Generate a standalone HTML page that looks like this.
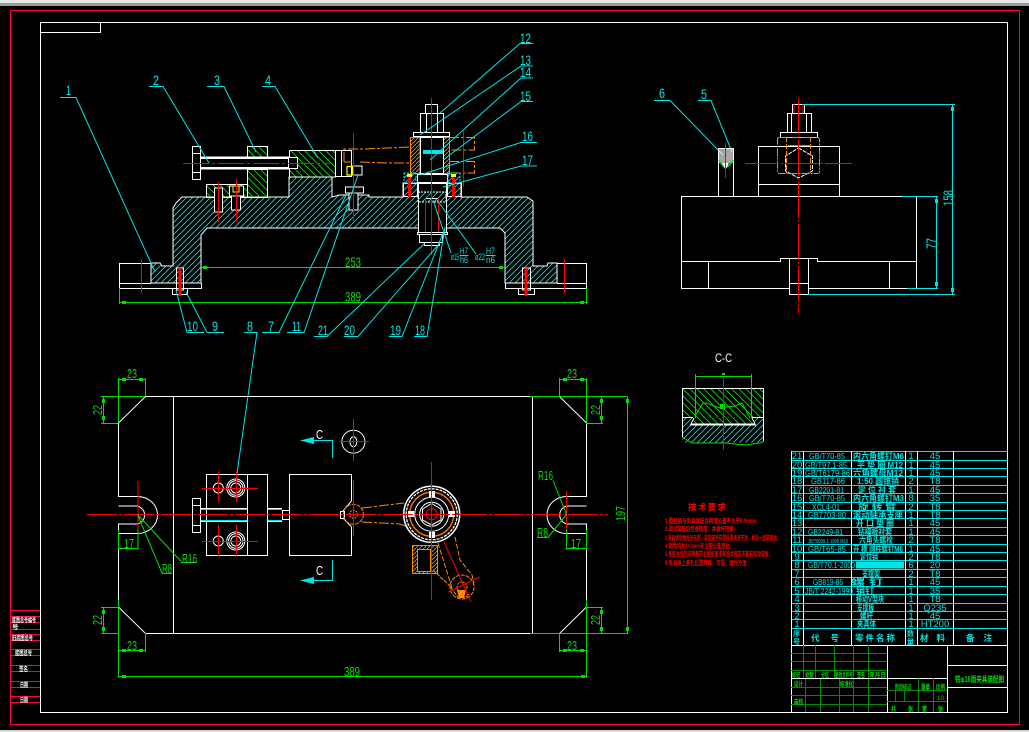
<!DOCTYPE html>
<html><head><meta charset="utf-8"><title>钻φ16孔夹具装配图</title>
<style>
html,body{margin:0;padding:0;background:#000;width:1029px;height:732px;overflow:hidden}
svg{display:block}
text{font-family:"Liberation Sans","Noto Sans CJK SC",sans-serif}
</style></head><body>
<svg width="1029" height="732" viewBox="0 0 1029 732" xmlns="http://www.w3.org/2000/svg">
<defs>
<pattern id="hc" width="6" height="6" patternUnits="userSpaceOnUse"><path d="M-1,7 L7,-1 M-1,1 L1,-1 M5,7 L7,5" stroke="#00e5e5" stroke-width=".8"/></pattern>
<pattern id="hg" width="7" height="7" patternUnits="userSpaceOnUse"><path d="M-1,-1 L8,8 M6,-1 L8,1 M-1,6 L1,8" stroke="#00e000" stroke-width=".9"/></pattern>
<pattern id="ho" width="4" height="4" patternUnits="userSpaceOnUse"><path d="M-1,5 L5,-1" stroke="#ff8c00" stroke-width=".8"/></pattern>
</defs>
<rect width="1029" height="732" fill="#000"/>
<rect x="0" y="0" width="1029" height="3" fill="#e8e8e8"/>
<rect x="0" y="3" width="1029" height="3" fill="#9a9a9a"/>
<rect x="0" y="730" width="1029" height="2" fill="#d8d8d8"/>
<rect x="10.5" y="10.5" width="1009" height="714" fill="none" stroke="#ff0040" stroke-width="1"/>
<g fill="none" stroke="#fff" stroke-width="1" shape-rendering="crispEdges">
<rect x="40.5" y="22.5" width="967" height="690"/>
<rect x="40.5" y="22.5" width="60" height="10"/>
</g>
<g stroke="#ff0040" stroke-width="1" shape-rendering="crispEdges">
<path d="M11,610.5H40M11,616.5H40M11,622.5H40M11,629.5H40M11,634.5H40M11,640.5H40M11,649.5H40M11,655.5H40M11,665.5H40M11,671.5H40M11,681.5H40M11,687.5H40M11,696.5H40M11,702.5H40"/>
</g>
<g fill="#fff" font-size="6.5" font-weight="700">
<text x="12" y="622" textLength="24" lengthAdjust="spacingAndGlyphs">底图总号编号</text>
<text x="12" y="629">号</text>
<text x="12" y="640" textLength="21" lengthAdjust="spacingAndGlyphs">旧底图总号</text>
<text x="15" y="655" textLength="17" lengthAdjust="spacingAndGlyphs">底图总号</text>
<text x="19" y="671" textLength="9" lengthAdjust="spacingAndGlyphs">签名</text>
<text x="20" y="687" textLength="8" lengthAdjust="spacingAndGlyphs">日期</text>
<text x="20" y="702" textLength="8" lengthAdjust="spacingAndGlyphs">日期</text>
</g>

<!-- FRONT VIEW -->
<path d="M173,208L176,203L182,197H289V177H332V197L339,195H369L369,197H403V183H461V197H527L533,201V266H547L548,263H557V283H505V233L500,228H207L201,235V283H151V263H160L162,266H173Z" fill="url(#hc)" stroke="#fff" stroke-width="1"/>
<rect x="418" y="183" width="28" height="50" fill="#000"/>
<g fill="none" stroke="#fff" stroke-width="1" shape-rendering="crispEdges">
<path d="M151,263.5H119.5V288.5H201.5V283M151,283.5H141"/>
<path d="M557,263.5H586.5V288.5H505.5V283M557,283.5H564"/>
<path d="M119.5,283.5H151M557,283.5H586"/>
</g>
<!-- base screws -->
<g fill="none" stroke="#fff" stroke-width="1" shape-rendering="crispEdges">
<path d="M172.5,288V294.5H187.5V288M176.5,268H183.5V290H176.5Z"/>
<path d="M518.5,288V294.5H534.5V288M522.5,268H530.5V290H522.5Z"/>
</g>
<g stroke="#ff0000" shape-rendering="crispEdges">
<path d="M141.5,259V293M564.5,259V293" stroke-width="1.4"/>
<path d="M180,268V296M526,268V296" stroke-width="3"/>
</g>
<!-- block 3 + 4 green hatch -->
<g fill="url(#hg)" stroke="#fff" stroke-width="1" shape-rendering="crispEdges">
<rect x="247.5" y="146.5" width="20" height="11"/>
<rect x="247.5" y="169.5" width="20" height="28"/>
<rect x="206.5" y="184.5" width="41" height="13"/>
<rect x="289.5" y="150.5" width="46" height="26.5"/>
</g>
<g fill="none" stroke="#fff" shape-rendering="crispEdges">
<rect x="335.5" y="150.5" width="16" height="26"/>
<path d="M341.5,150.5V176.5"/>
<rect x="192.5" y="146.5" width="8" height="33" fill="#000"/>
<path d="M192.5,153.5H200.5M192.5,172.5H200.5"/>
<rect x="288.5" y="157.5" width="9" height="11" fill="#000"/>
</g>
<g fill="#000" stroke="#fff" stroke-width="1" shape-rendering="crispEdges">
<rect x="200.5" y="157" width="88" height="12" />
<rect x="214.5" y="188" width="8" height="24"/>
<rect x="231.5" y="196" width="9" height="14"/>
<rect x="229.5" y="186" width="14" height="10"/>
<rect x="345.5" y="187" width="18" height="6"/>
<rect x="349" y="193" width="9" height="17"/>
<rect x="352.5" y="166" width="9.5" height="9"/>
</g>
<path d="M201,157.5H288M201,158.5H288M201,168.5H288M201,167.5H288" stroke="#fff" shape-rendering="crispEdges"/>
<rect x="233" y="186" width="6" height="6" fill="none" stroke="#ffff00"/>
<rect x="347" y="166.5" width="5.5" height="8.5" fill="none" stroke="#ffff00" stroke-width="1.2"/>
<g stroke="#ff0000" stroke-width="1" shape-rendering="crispEdges">
<path d="M183,163.5H330" stroke-dasharray="26 3 3 3"/>
<path d="M218.5,182V222M236.5,179V221M353.5,133V221"/>
</g>
<!-- orange handle -->
<g fill="none" stroke="#ff8c00" stroke-width="1" stroke-dasharray="10 2 3 2">
<path d="M344,162V149H365L410,147M344,162H352M360,162L388,163H410"/>
</g>
<rect x="410.5" y="137.5" width="9.5" height="36" fill="url(#ho)" stroke="#ff8c00"/>
<rect x="443.5" y="137.5" width="6" height="36" fill="url(#ho)" stroke="#ff8c00"/>
<g fill="none" stroke="#ff8c00" stroke-dasharray="10 2 3 2">
<path d="M449,137.5H474.5V150H449M449,161.5H474.5V173H449"/>
</g>
<!-- central post -->
<g fill="#000" stroke="#fff" stroke-width="1" shape-rendering="crispEdges">
<rect x="425.5" y="104.5" width="12" height="9"/>
<rect x="420.5" y="113.5" width="23" height="19"/>
<path d="M426.5,113.5V132M437.5,113.5V132" fill="none"/>
<rect x="413.5" y="132.5" width="36" height="4"/>
<rect x="420.5" y="137.5" width="23" height="36" />
<rect x="417.5" y="174.5" width="30" height="8"/>
<rect x="403.5" y="183.5" width="14" height="13" fill="none"/>
<rect x="447.5" y="183.5" width="14" height="13" fill="none"/>
<rect x="418.5" y="183.5" width="28" height="49"/>
<rect x="425.5" y="198.5" width="13" height="34"/>
<rect x="417.5" y="232.5" width="30" height="2"/>
<rect x="419.5" y="234.5" width="23" height="8"/>
<rect x="424.5" y="242.5" width="15" height="3"/>
</g>
<rect x="423" y="150" width="20" height="4" fill="#00e5e5"/>
<rect x="418" y="192" width="28" height="10" fill="url(#hc)" stroke="#fff" stroke-dasharray="2 1"/>
<rect x="404" y="173" width="12" height="10" fill="url(#hc)" stroke="#00e5e5" stroke-dasharray="2 1"/>
<rect x="448" y="173" width="12" height="10" fill="url(#hc)" stroke="#00e5e5" stroke-dasharray="2 1"/>
<rect x="407" y="174" width="5" height="3" fill="#ffff00"/>
<rect x="451" y="174" width="5" height="3" fill="#ffff00"/>
<g stroke="#ff0000" shape-rendering="crispEdges">
<path d="M431.5,98V255" stroke-width="1"/>
<path d="M463.5,131V187" stroke-width="1"/>
<path d="M409.5,178V197M453.5,178V197" stroke-width="3"/>
<path d="M425.5,198V232M438.5,198V232" stroke-width="1.4"/>
</g>
<!-- green dims front -->
<g stroke="#00e000" fill="none" stroke-width="1" shape-rendering="crispEdges">
<path d="M201,267.5H505M119.5,302.5H586.5M119.5,288V304M586.5,288V304"/>
</g>
<g fill="#00e000"><rect x="203" y="266" width="4" height="3"/><rect x="499" y="266" width="4" height="3"/><rect x="122" y="301" width="4" height="3"/><rect x="580" y="301" width="4" height="3"/></g>
<g fill="#00e000" font-size="13.5"><text x="345" y="267" textLength="16" lengthAdjust="spacingAndGlyphs">253</text><text x="345" y="301.5" textLength="16" lengthAdjust="spacingAndGlyphs">389</text></g>
<!-- leaders -->
<g stroke="#00e5e5" fill="none" stroke-width="1">
<path d="M60,97.5H76L155,272"/>
<path d="M149,86.5H163L209,163"/>
<path d="M207,86.5H224L256,152"/>
<path d="M262,86.5H275L318,158"/>
<path d="M533,43.5H520L440,113"/>
<path d="M533,66H521L420,135"/>
<path d="M533,78H521L430,160"/>
<path d="M533,101.5H521L443,160"/>
<path d="M537,142.5H521L420,175"/>
<path d="M537,166H521L443,187"/>
<path d="M187,332.5H204M187,332.5L176,290"/>
<path d="M207,332.5H224M207,332.5L186,292"/>
<path d="M244,332.5H257L236.5,477"/>
<path d="M262,332.5H279L347,193"/>
<path d="M287,332.5H304L358,175"/>
<path d="M314,336.5H327L425,243"/>
<path d="M344,336.5H358L440,243"/>
<path d="M389,336.5H402L443,233"/>
<path d="M414,336.5H427L445,227"/>
<path d="M451,253L433,200M476,254L437,200"/>
<path d="M654,100.5H670L723,155"/>
<path d="M698,100.5H711L732,152"/>
</g>
<g fill="#00e5e5" font-size="13.5">
<text x="66" y="95" textLength="5" lengthAdjust="spacingAndGlyphs">1</text>
<text x="153" y="85" textLength="6" lengthAdjust="spacingAndGlyphs">2</text>
<text x="214" y="85" textLength="6" lengthAdjust="spacingAndGlyphs">3</text>
<text x="265" y="85" textLength="6" lengthAdjust="spacingAndGlyphs">4</text>
<text x="520" y="43" textLength="11" lengthAdjust="spacingAndGlyphs">12</text>
<text x="520" y="65" textLength="11" lengthAdjust="spacingAndGlyphs">13</text>
<text x="520" y="77" textLength="11" lengthAdjust="spacingAndGlyphs">14</text>
<text x="520" y="101" textLength="11" lengthAdjust="spacingAndGlyphs">15</text>
<text x="522" y="141" textLength="11" lengthAdjust="spacingAndGlyphs">16</text>
<text x="522" y="165" textLength="11" lengthAdjust="spacingAndGlyphs">17</text>
<text x="187" y="331" textLength="11" lengthAdjust="spacingAndGlyphs">10</text>
<text x="212" y="331" textLength="6" lengthAdjust="spacingAndGlyphs">9</text>
<text x="247" y="331" textLength="6" lengthAdjust="spacingAndGlyphs">8</text>
<text x="268" y="331" textLength="6" lengthAdjust="spacingAndGlyphs">7</text>
<text x="292" y="331" textLength="9" lengthAdjust="spacingAndGlyphs">11</text>
<text x="318" y="335" textLength="10" lengthAdjust="spacingAndGlyphs">21</text>
<text x="344" y="335" textLength="11" lengthAdjust="spacingAndGlyphs">20</text>
<text x="390" y="335" textLength="11" lengthAdjust="spacingAndGlyphs">19</text>
<text x="415" y="335" textLength="10" lengthAdjust="spacingAndGlyphs">18</text>
<text x="659" y="98" textLength="6" lengthAdjust="spacingAndGlyphs">6</text>
<text x="701" y="99" textLength="6" lengthAdjust="spacingAndGlyphs">5</text>
</g>
<g fill="#00e5e5" font-size="9.5">
<text x="451" y="260" textLength="8" lengthAdjust="spacingAndGlyphs">ø15</text>
<text x="460" y="254" textLength="8" lengthAdjust="spacingAndGlyphs">H7</text>
<text x="460" y="263" textLength="8" lengthAdjust="spacingAndGlyphs">h6</text>
<text x="475" y="260" textLength="10" lengthAdjust="spacingAndGlyphs">ø22</text>
<text x="486" y="254" textLength="9" lengthAdjust="spacingAndGlyphs">H7</text>
<text x="486" y="263" textLength="9" lengthAdjust="spacingAndGlyphs">n6</text>
</g>
<path d="M459.5,255.5H468.5M485.5,255.5H495.5" stroke="#00e5e5"/>

<!-- SIDE VIEW -->
<g fill="none" stroke="#fff" stroke-width="1" shape-rendering="crispEdges">
<rect x="681.5" y="196.5" width="235" height="92"/>
<path d="M681.5,261.5H780.5V258.5H817.5V261.5H916.5"/>
<path d="M708.5,261.5V288M889.5,261.5V288"/>
<rect x="789.5" y="258.5" width="19" height="36" fill="#000"/>
<path d="M789.5,283.5H808.5"/>
<path d="M718.5,148V196M733.5,148V196M718.5,148.5H733.5"/>
<rect x="758.5" y="146.5" width="81" height="50"/>
<path d="M758.5,184.5H839.5"/>
<rect x="792.5" y="104.5" width="12" height="9"/>
<rect x="787.5" y="113.5" width="24" height="19"/>
<path d="M791.5,113.5V132M806.5,113.5V132"/>
<rect x="780.5" y="132.5" width="37" height="5" stroke-width="1.4"/>
<path d="M788,146H810"/>
</g>
<path d="M798.5,148L812.5,156V171L798.5,178L785.5,171V156Z" fill="none" stroke="#fff" stroke-dasharray="4 1"/>
<rect x="777.5" y="137.5" width="42" height="36" rx="2" fill="none" stroke="#ff8c00" stroke-dasharray="8 1 2 1"/>
<path d="M786.5,137V173M810.5,137V173" stroke="#ff8c00" stroke-dasharray="5 2"/>
<rect x="719" y="149" width="14" height="14" fill="#fff" opacity=".65"/>
<path d="M719,160Q725.5,174 733,160" fill="none" stroke="#00e000" stroke-width="1.4"/>
<path d="M722,163H729L725.5,170Z" fill="#fff"/>
<g stroke="#ff0000" stroke-width="1" shape-rendering="crispEdges">
<path d="M798.5,98V313" stroke-dasharray="36 2 2 2"/>
<path d="M745,163.5H852" stroke-dasharray="34 2 2 2"/>
<path d="M725.5,143V178M794,104V113M803,104V113"/>
</g>
<g stroke="#00e5e5" fill="none" shape-rendering="crispEdges">
<path d="M804,104.5H955M808,294.5H955M952.5,104V295"/>
<path d="M902,196.5H938M907,288.5H938M936.5,196V289"/>
</g>
<g fill="#00e5e5"><rect x="951" y="107" width="3" height="4"/><rect x="951" y="288" width="3" height="4"/><rect x="935" y="199" width="3" height="4"/><rect x="935" y="282" width="3" height="4"/></g>
<text transform="translate(953,206) rotate(-90)" fill="#00e5e5" font-size="13.5" textLength="16" lengthAdjust="spacingAndGlyphs">158</text>
<text transform="translate(936,249) rotate(-90)" fill="#00e5e5" font-size="13.5" textLength="11" lengthAdjust="spacingAndGlyphs">77</text>

<!-- SECTION C-C -->
<text x="715" y="362" fill="#fff" font-size="12" textLength="17" lengthAdjust="spacingAndGlyphs">C-C</text>
<rect x="682.5" y="388.5" width="81" height="29" fill="url(#hg)"/>
<rect x="682.5" y="417.5" width="81" height="25" fill="url(#hc)"/>
<path d="M694,418L690,425H756L752,418Z" fill="#000"/>
<path d="M694,418L690,425H756L752,418Z" fill="url(#hg)"/>
<g fill="none" stroke="#fff" stroke-width="1" shape-rendering="crispEdges">
<path d="M682.5,437V388.5H763.5V441M682.5,417.5H693M752,417.5H763.5"/>
<path d="M691,424.5H755" stroke-width="2"/>
<path d="M694,418L690,426M752,418L756,426"/>
</g>
<path d="M682,437L692,443H725L746,445L760,443L764,441" fill="none" stroke="#00e000"/>
<g stroke="#00e000" fill="none" stroke-width="1">
<path d="M695.5,374V418M751.5,374V418M695,376.5H752"/>
<path d="M695,416L703,403L706,403L720,408L735,406L742,403L750,418" />
</g>
<rect x="720" y="404" width="5" height="5" fill="#00e000"/>
<rect x="722" y="373" width="3" height="2" fill="#00e000"/>
<path d="M723.5,378V450" stroke="#ff0000" stroke-width="1" shape-rendering="crispEdges"/>

<!-- PLAN VIEW -->
<g fill="none" stroke="#fff" stroke-width="1">
<path d="M145.5,396.5H559.5L586.5,423M586.5,607L559.5,633.5H145.5L118.5,607M118.5,423L145.5,396.5" />
<path d="M173.5,396.5V633.5M532.5,396.5V633.5"/>
<path d="M118.5,423V496.5H137.5A20,18.5 0 0 1 137.5,533.5H118.5V524H137.5A10.5,9.5 0 0 0 137.5,506H118.5"/>
<path d="M118.5,524V607"/>
<path d="M586.5,423V496.5H566.5A19.5,18.5 0 0 0 566.5,533.5H586.5V524H566.5A10,9.5 0 0 1 566.5,506H586.5"/>
<path d="M586.5,524V607"/>
</g>
<g fill="none" stroke="#fff" stroke-width="1" shape-rendering="crispEdges">
<rect x="206.5" y="474.5" width="61" height="81"/>
<path d="M247.5,474.5V555"/>
<path d="M351.5,501V474.5H289.5V555.5H351.5V527"/>
<rect x="192.5" y="498.5" width="8" height="34" fill="#000"/>
<path d="M192.5,505.5H200.5M192.5,525.5H200.5"/>
<rect x="282.5" y="510.5" width="7" height="9"/>
<rect x="340.5" y="511.5" width="4" height="7"/>
</g>
<path d="M351.5,501L343,511M343,518L351.5,527" fill="none" stroke="#fff"/>
<g stroke="#00e5e5" stroke-width="1" shape-rendering="crispEdges">
<path d="M201,509.5H247M201,520.5H247M268,509.5H282M268,520.5H282"/>
</g>
<path d="M201,508.5H247M201,521.5H247M268,508.5H282M268,521.5H282" stroke="#fff" shape-rendering="crispEdges"/>
<g fill="none" stroke="#fff">
<circle cx="235.8" cy="488" r="9"/><circle cx="235.8" cy="488" r="7.2"/><circle cx="235.8" cy="488" r="5"/>
<circle cx="235.8" cy="541" r="9"/><circle cx="235.8" cy="541" r="7.2"/><circle cx="235.8" cy="541" r="5"/>
<circle cx="218.3" cy="488" r="5"/><circle cx="218.3" cy="541" r="5"/>
<circle cx="353.4" cy="441.7" r="11.5"/><ellipse cx="353.4" cy="441.7" rx="3.5" ry="5"/>
</g>
<!-- orange arm -->
<g fill="none" stroke="#ff8c00" stroke-width="1">
<circle cx="353.4" cy="514.3" r="10" stroke-dasharray="4 1"/>
<circle cx="353.4" cy="514.3" r="4" stroke-dasharray="2 1"/>
<path d="M362,508L404,503M362,522L400,524L408,527" stroke-dasharray="10 2 3 2"/>
<rect x="412.5" y="545.5" width="25" height="28" fill="url(#ho)"/>
<rect x="417.5" y="549.5" width="13" height="22" fill="#000"/>
<path d="M438,543L452,588M455,537L460,560L472,575L474,583" stroke-dasharray="5 2"/>
<circle cx="462" cy="587" r="12" stroke-dasharray="4 1"/>
<circle cx="462" cy="587" r="5" stroke-dasharray="2 1"/>
<path d="M433,570L449,585L458,597H466L470,593" stroke-dasharray="4 1"/>
</g>
<path d="M457,590H466L464,598H459Z" fill="#ff8c00"/>
<g fill="none">
<circle cx="431.7" cy="514.3" r="28" stroke="#fff" stroke-width="1.5"/>
<circle cx="431.7" cy="514.3" r="25.5" stroke="#fff" stroke-width="1.3" stroke-dasharray="3 1"/>
<circle cx="431.7" cy="514.3" r="22" stroke="#ff7000" stroke-width="1.4"/>
<circle cx="431.7" cy="514.3" r="17" stroke="#fff"/>
<circle cx="431.7" cy="514.3" r="12" stroke="#fff"/>
<path d="M431.7,503.5L441,509V520L431.7,525L422.5,520V509Z" stroke="#fff"/>
<circle cx="431.7" cy="514.3" r="5.5" stroke="#ff0040"/>
</g>
<g fill="#fff"><rect x="429" y="491" width="6" height="6"/><rect x="429" y="532" width="6" height="6"/><rect x="408" y="511" width="6" height="6"/><rect x="449" y="511" width="6" height="6"/></g>
<g stroke="#ff0000" stroke-width="1" shape-rendering="crispEdges">
<path d="M87,514.5H608" stroke-dasharray="30 2 3 2"/>
<path d="M431.5,462V600M353.5,480V536M353.5,419V461M339,441.5H369"/>
<path d="M138,481V540M566.5,491V540"/>
<path d="M202,488.5H258M202,541.5H258M218.5,472V502M236.5,472V502M218.5,525V556M236.5,525V556"/>
</g>
<path d="M444,542L471,602M448,592L480,577" stroke="#ff0000" fill="none"/>
<!-- section arrows -->
<g stroke="#00e5e5" fill="none" stroke-width="1" shape-rendering="crispEdges">
<path d="M332.5,458V440.5H301M332.5,560V580.5H301"/>
</g>
<path d="M300,440.5L314,437V444Z M300,580.5L314,577V584Z" fill="#00e5e5"/>
<text x="316" y="439" fill="#fff" font-size="13" textLength="7" lengthAdjust="spacingAndGlyphs">C</text>
<text x="316" y="575" fill="#fff" font-size="13" textLength="7" lengthAdjust="spacingAndGlyphs">C</text>
<!-- plan dims -->
<g stroke="#00e000" fill="none" stroke-width="1" shape-rendering="crispEdges">
<path d="M118.5,378V423M145.5,378V396M118,379.5H146"/>
<path d="M559.5,378V396M586.5,378V423M559,379.5H587"/>
<path d="M101,396.5H145M101,423.5H118M103.5,396V424"/>
<path d="M530,396.5H628M586,423.5H603M601.5,396V424"/>
<path d="M101,607.5H118M101,633.5H118M103.5,607V634"/>
<path d="M586,607.5H603M530,633.5H628M601.5,607V634"/>
<path d="M118.5,600V652M145.5,633V652M118,650.5H146"/>
<path d="M559.5,633V652M586.5,600V678M559,650.5H587"/>
<path d="M118.5,633V678M118,676.5H587"/>
<path d="M627.5,396V634"/>
<path d="M118.5,530V550M138,530V550M118,548.5H138M566.5,530V550M586.5,530V550M566,548.5H587"/>
<path d="M181,562.5H197M162,573.5H172M537,537.5H548"/>
</g>
<g stroke="#00e000" fill="none" stroke-width="1">
<path d="M137.5,514.5L162,573M137.5,514.5L181.5,562M553,480.5L566.5,514.5L548,537.5"/>
</g>
<g fill="#00e000">
<rect x="122" y="378" width="4" height="3"/><rect x="139" y="378" width="4" height="3"/>
<rect x="563" y="378" width="4" height="3"/><rect x="580" y="378" width="4" height="3"/>
<rect x="122" y="649" width="4" height="3"/><rect x="139" y="649" width="4" height="3"/>
<rect x="563" y="649" width="4" height="3"/><rect x="580" y="649" width="4" height="3"/>
<rect x="122" y="675" width="4" height="3"/><rect x="581" y="675" width="4" height="3"/>
<rect x="102" y="399" width="3" height="4"/><rect x="102" y="416" width="3" height="4"/>
<rect x="600" y="399" width="3" height="4"/><rect x="600" y="416" width="3" height="4"/>
<rect x="102" y="610" width="3" height="4"/><rect x="102" y="627" width="3" height="4"/>
<rect x="600" y="610" width="3" height="4"/><rect x="600" y="627" width="3" height="4"/>
<rect x="626" y="399" width="3" height="4"/><rect x="626" y="627" width="3" height="4"/>
</g>
<g fill="#00e000" font-size="13">
<text x="127" y="378" textLength="10" lengthAdjust="spacingAndGlyphs">23</text>
<text x="567" y="378" textLength="10" lengthAdjust="spacingAndGlyphs">23</text>
<text x="127" y="650" textLength="10" lengthAdjust="spacingAndGlyphs">23</text>
<text x="567" y="650" textLength="10" lengthAdjust="spacingAndGlyphs">23</text>
<text x="344" y="676" textLength="16" lengthAdjust="spacingAndGlyphs">389</text>
<text x="124" y="548" textLength="10" lengthAdjust="spacingAndGlyphs">17</text>
<text x="571" y="548" textLength="10" lengthAdjust="spacingAndGlyphs">17</text>
<text x="182" y="563" textLength="15" lengthAdjust="spacingAndGlyphs">R16</text>
<text x="162" y="573" textLength="10" lengthAdjust="spacingAndGlyphs">R8</text>
<text x="538" y="480" textLength="15" lengthAdjust="spacingAndGlyphs">R16</text>
<text x="537" y="537" textLength="11" lengthAdjust="spacingAndGlyphs">R8</text>
<text transform="translate(102,415) rotate(-90)" textLength="10" lengthAdjust="spacingAndGlyphs">22</text>
<text transform="translate(600,415) rotate(-90)" textLength="10" lengthAdjust="spacingAndGlyphs">22</text>
<text transform="translate(102,625) rotate(-90)" textLength="10" lengthAdjust="spacingAndGlyphs">22</text>
<text transform="translate(600,625) rotate(-90)" textLength="10" lengthAdjust="spacingAndGlyphs">22</text>
<text transform="translate(625,521) rotate(-90)" textLength="15" lengthAdjust="spacingAndGlyphs">197</text>
</g>

<!-- TECH REQ -->
<g fill="#ff0000" font-weight="700">
<text x="688" y="510" font-size="8.5" textLength="38" lengthAdjust="spacing">技术要求</text>
<g font-size="6.5">
<text x="665" y="523" textLength="93" lengthAdjust="spacingAndGlyphs">1.圆柱销与夹具体配合精度公差不大于0.05mm;</text>
<text x="665" y="531" textLength="70" lengthAdjust="spacingAndGlyphs">2.调试装配后检查精度，并做好记录;</text>
<text x="665" y="540" textLength="113" lengthAdjust="spacingAndGlyphs">3.夹具体锐角处去毛刺，装配前所有零件须清洗干净，并涂一层防锈油;</text>
<text x="665" y="548" textLength="66" lengthAdjust="spacingAndGlyphs">4.倒角均为1×3mm未注明公差按此;</text>
<text x="665" y="556" textLength="105" lengthAdjust="spacingAndGlyphs">5.各配合处的间隙要符合图纸要求和技术规定不能有松动现象;</text>
<text x="665" y="565" textLength="83" lengthAdjust="spacingAndGlyphs">6.夹具体上各孔位置精确，可靠，操作方便;</text>
</g></g>

<!-- PARTS TABLE -->
<g stroke="#00e5e5" fill="none" stroke-width="1" shape-rendering="crispEdges">
<path d="M791,451.5H1007M791,460.5H1007M791,468.5H1007M791,476.5H1007M791,485.5H1007M791,493.5H1007M791,502.5H1007M791,510.5H1007M791,518.5H1007M791,527.5H1007M791,535.5H1007M791,544.5H1007M791,552.5H1007M791,560.5H1007M791,569.5H1007M791,577.5H1007M791,586.5H1007M791,594.5H1007M791,603.5H1007M791,611.5H1007M791,619.5H1007M791,628.5H1007"/>
</g>
<g stroke="#fff" fill="none" stroke-width="1" shape-rendering="crispEdges">
<path d="M791.5,451V712M803.5,451V645M851.5,451V645M905.5,451V645M917.5,451V645M953.5,451V645M1007.5,451V712"/>
<path d="M791,645.5H1007M887.5,645V712M947.5,645V712M947,665.5H1007M947,687.5H1007M887,678.5H947"/>
</g>
<g stroke="#008a00" fill="none" stroke-width="1" shape-rendering="crispEdges">
<path d="M791,653.5H887M791,661.5H887M791,670.5H887M791,687.5H887M791,695.5H887M791,704.5H887M887,690.5H947M887,701.5H947"/>
<path d="M803.5,645V678M815.5,645V678M834.5,645V678M853.5,645V678M868.5,645V678M805.5,678V712M820.5,678V712M839.5,678V712M853.5,678V712M868.5,678V712M918.5,678V712M933.5,678V712M895.5,691V701M904.5,691V701"/>
<path d="M791,678.5H887" stroke="#fff"/>
</g>
<g fill="#00e5e5" font-size="9.5">
<g text-anchor="middle">
<text x="797" y="459">21</text><text x="797" y="468">20</text><text x="797" y="476">19</text><text x="797" y="484">18</text><text x="797" y="493">17</text><text x="797" y="501">16</text><text x="797" y="510">15</text><text x="797" y="518">14</text><text x="797" y="526">13</text><text x="797" y="535">12</text><text x="797" y="543">11</text><text x="797" y="552">10</text><text x="797" y="560">9</text><text x="797" y="568">8</text><text x="797" y="577">7</text><text x="797" y="585">6</text><text x="797" y="594">5</text><text x="797" y="602">4</text><text x="797" y="611">3</text><text x="797" y="619">2</text><text x="797" y="627">1</text>
<text x="911" y="459">1</text><text x="911" y="468">1</text><text x="911" y="476">1</text><text x="911" y="484">2</text><text x="911" y="493">1</text><text x="911" y="501">8</text><text x="911" y="510">2</text><text x="911" y="518">1</text><text x="911" y="526">1</text><text x="911" y="535">1</text><text x="911" y="543">2</text><text x="911" y="552">1</text><text x="911" y="560">2</text><text x="911" y="568">6</text><text x="911" y="577">2</text><text x="911" y="585">1</text><text x="911" y="594">1</text><text x="911" y="602">1</text><text x="911" y="611">1</text><text x="911" y="619">1</text><text x="911" y="627">1</text>
<text x="935" y="459">45</text><text x="935" y="468">45</text><text x="935" y="476">45</text><text x="935" y="484">T8</text><text x="935" y="493">45</text><text x="935" y="501">35</text><text x="935" y="510">T8</text><text x="935" y="518">T8</text><text x="935" y="526">45</text><text x="935" y="535">45</text><text x="935" y="543">T8</text><text x="935" y="552">45</text><text x="935" y="560">T8</text><text x="935" y="568">20</text><text x="935" y="577">T8</text><text x="935" y="585">45</text><text x="935" y="594">35</text><text x="935" y="602">T8</text><text x="935" y="611">Q235</text><text x="935" y="619">45</text><text x="935" y="627">HT200</text>
</g>
<g font-size="8.5" lengthAdjust="spacingAndGlyphs">
<text x="809" y="459" textLength="36" lengthAdjust="spacingAndGlyphs">GB/T70-85</text>
<text x="805" y="468" textLength="42" lengthAdjust="spacingAndGlyphs">GB/T97.1-85</text>
<text x="805" y="476" textLength="45" lengthAdjust="spacingAndGlyphs">GB/T6179-86</text>
<text x="811" y="484" textLength="34" lengthAdjust="spacingAndGlyphs">GB117-86</text>
<text x="809" y="493" textLength="35" lengthAdjust="spacingAndGlyphs">GB2201-81</text>
<text x="809" y="501" textLength="36" lengthAdjust="spacingAndGlyphs">GB/T70-85</text>
<text x="812" y="510" textLength="28" lengthAdjust="spacingAndGlyphs">XCL4-01</text>
<text x="808" y="518" textLength="38" lengthAdjust="spacingAndGlyphs">GB7703-80</text>
<text x="808" y="535" textLength="35" lengthAdjust="spacingAndGlyphs">GB2249-81</text>
<text x="808" y="552" textLength="38" lengthAdjust="spacingAndGlyphs">GB/T65-85</text>
<text x="808" y="568" textLength="47" lengthAdjust="spacingAndGlyphs">GB/T70.1-2000</text>
<text x="813" y="585" textLength="30" lengthAdjust="spacingAndGlyphs">GB819-85</text>
<text x="805" y="594" textLength="48" lengthAdjust="spacingAndGlyphs">JB/T 2242-1999</text>
<text x="808" y="543" font-size="5" textLength="40" lengthAdjust="spacingAndGlyphs">JB/T8009.1-1999 M10</text>
</g>
<g font-weight="700" font-size="8.5">
<text x="853" y="459" textLength="51" lengthAdjust="spacingAndGlyphs">内六角螺钉M6</text>
<text x="857" y="468" textLength="46" lengthAdjust="spacingAndGlyphs">平 垫 圈 M12</text>
<text x="853" y="476" textLength="50" lengthAdjust="spacingAndGlyphs">六角螺母M12</text>
<text x="857" y="484" textLength="42" lengthAdjust="spacingAndGlyphs">1:50 圆锥销</text>
<text x="858" y="493" textLength="38" lengthAdjust="spacingAndGlyphs">定 位 衬 套</text>
<text x="853" y="501" textLength="51" lengthAdjust="spacingAndGlyphs">内六角螺钉M3</text>
<text x="858" y="510" textLength="38" lengthAdjust="spacingAndGlyphs">旋 转 臂</text>
<text x="853" y="518" textLength="50" lengthAdjust="spacingAndGlyphs">滚动轴承支座</text>
<text x="856" y="526" textLength="38" lengthAdjust="spacingAndGlyphs">开 口 垫 圈</text>
<text x="858" y="535" textLength="34" lengthAdjust="spacingAndGlyphs">钻模板衬套</text>
<text x="859" y="543" textLength="34" lengthAdjust="spacingAndGlyphs">六角头螺栓</text>
<text x="853" y="552" textLength="50" lengthAdjust="spacingAndGlyphs">开 槽 圆柱螺钉M6</text>
<text x="860" y="560" textLength="18" lengthAdjust="spacingAndGlyphs">定位销</text>
<rect x="856" y="561.5" width="48" height="7"/>
<text x="862" y="577" textLength="18" lengthAdjust="spacingAndGlyphs">支撑架</text>
<text x="851" y="585" textLength="32" lengthAdjust="spacingAndGlyphs">螺 钉</text>
<text x="856" y="594" textLength="18" lengthAdjust="spacingAndGlyphs">销钉</text>
<text x="856" y="602" textLength="28" lengthAdjust="spacingAndGlyphs">移动V型块</text>
<text x="857" y="611" textLength="17" lengthAdjust="spacingAndGlyphs">支撑板</text>
<text x="860" y="619" textLength="13" lengthAdjust="spacingAndGlyphs">螺杆</text>
<text x="857" y="627" textLength="19" lengthAdjust="spacingAndGlyphs">夹具体</text>
<text x="793" y="636" font-size="7">序</text><text x="793" y="644" font-size="7">号</text>
<text x="811" y="641" textLength="28" lengthAdjust="spacing">代 号</text>
<text x="855" y="641" textLength="40" lengthAdjust="spacing">零件名称</text>
<text x="907" y="636" font-size="7">数</text><text x="907" y="644" font-size="7">量</text>
<text x="920" y="641" textLength="25" lengthAdjust="spacing">材 料</text>
<text x="966" y="641" textLength="26" lengthAdjust="spacing">备 注</text>
</g>
</g>
<g fill="#00e000" font-weight="700" font-size="6.5">
<text x="792" y="677" textLength="8" lengthAdjust="spacingAndGlyphs">标记</text>
<text x="805" y="677" textLength="9" lengthAdjust="spacingAndGlyphs">处数</text>
<text x="821" y="677" textLength="8" lengthAdjust="spacingAndGlyphs">分区</text>
<text x="835" y="677" textLength="18" lengthAdjust="spacingAndGlyphs">更改文件号</text>
<text x="857" y="677" textLength="8" lengthAdjust="spacingAndGlyphs">签名</text>
<text x="869" y="677" textLength="17" lengthAdjust="spacingAndGlyphs">年月日</text>
<text x="794" y="686" textLength="9" lengthAdjust="spacingAndGlyphs">设计</text>
<text x="840" y="686" textLength="13" lengthAdjust="spacingAndGlyphs">标准化</text>
<text x="794" y="704" textLength="9" lengthAdjust="spacingAndGlyphs">审核</text>
<text x="895" y="689" textLength="16" lengthAdjust="spacingAndGlyphs">阶段标记</text>
<text x="921" y="689" textLength="9" lengthAdjust="spacingAndGlyphs">重量</text>
<text x="936" y="689" textLength="9" lengthAdjust="spacingAndGlyphs">比例</text>
<text x="937" y="700" textLength="7" lengthAdjust="spacingAndGlyphs" font-weight="400">10</text>
<text x="891" y="711" textLength="5" lengthAdjust="spacingAndGlyphs">共</text>
<text x="908" y="711" textLength="5" lengthAdjust="spacingAndGlyphs">张</text>
<text x="922" y="711" textLength="5" lengthAdjust="spacingAndGlyphs">第</text>
<text x="938" y="711" textLength="5" lengthAdjust="spacingAndGlyphs">张</text>
<text x="955" y="682" font-size="8" textLength="49" lengthAdjust="spacingAndGlyphs">铣φ16面夹具装配图</text>
</g>
</svg>
</body></html>
